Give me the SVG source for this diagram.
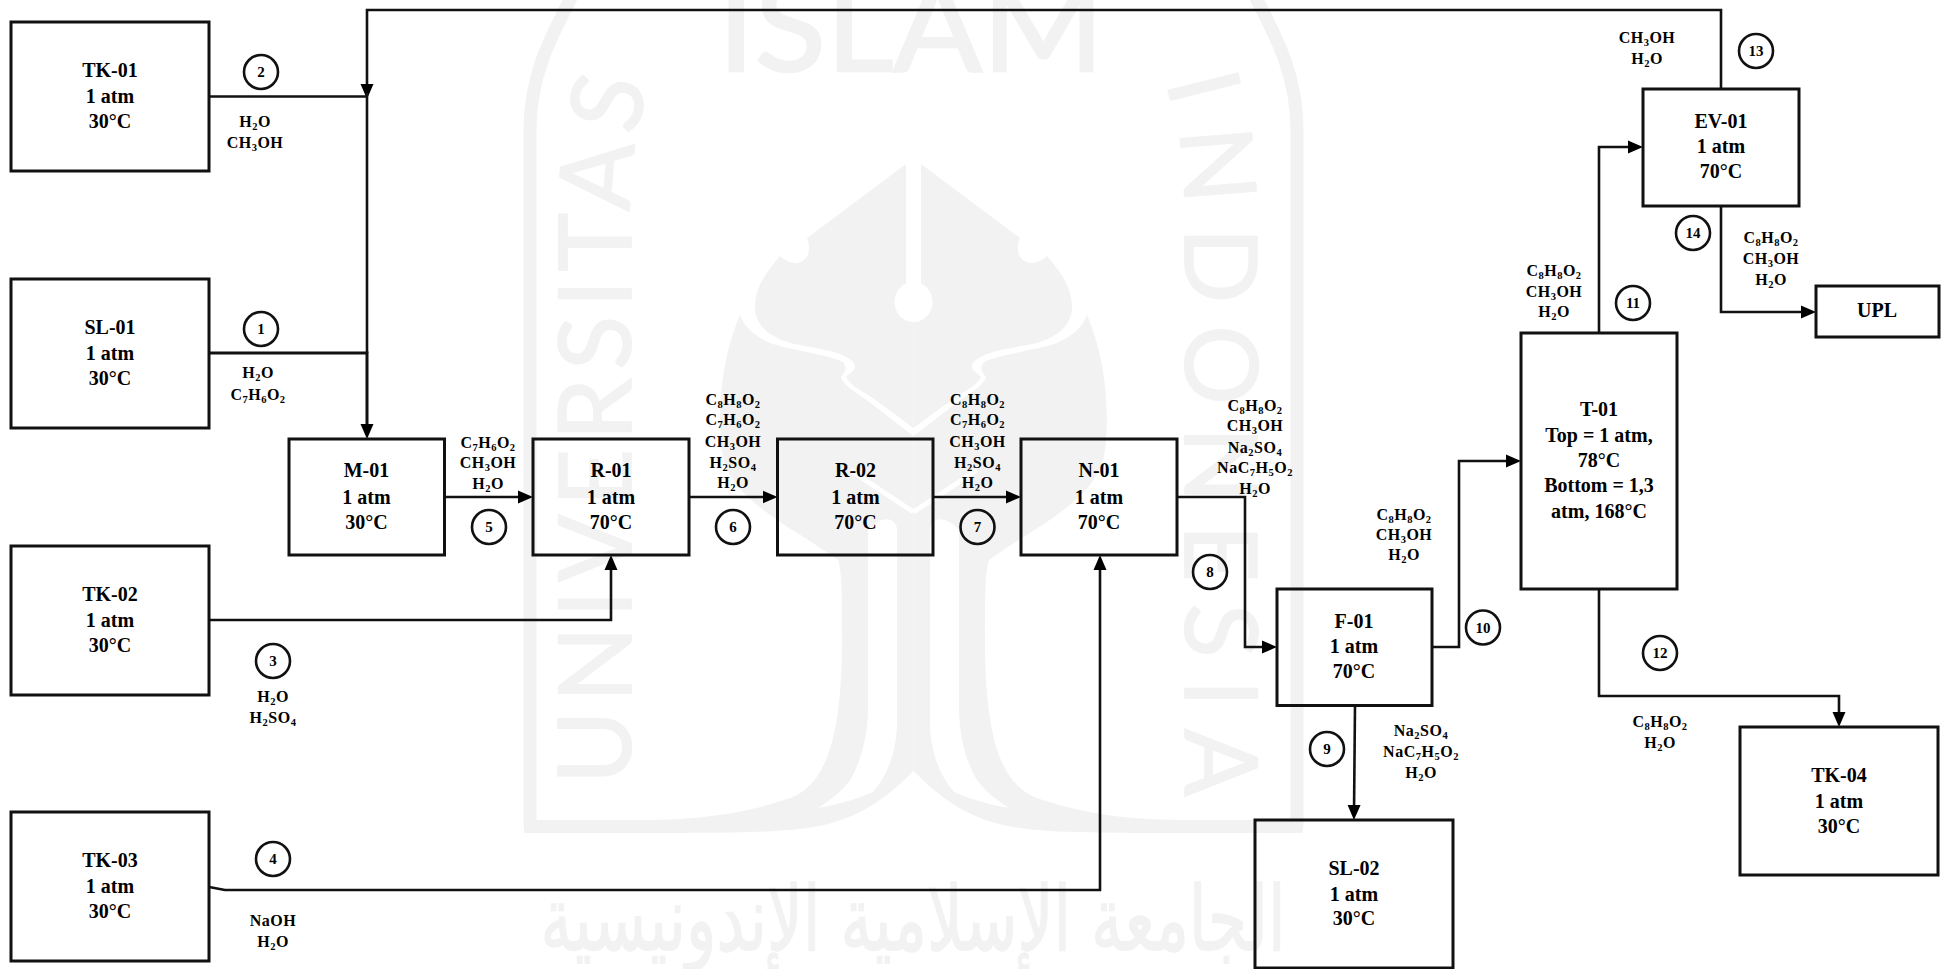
<svg xmlns="http://www.w3.org/2000/svg" xmlns:xlink="http://www.w3.org/1999/xlink" width="1946" height="969" viewBox="0 0 1946 969">
<style>
text{font-family:"Liberation Serif","Times New Roman",serif;font-weight:bold;fill:#000}
.n{font-size:20px;text-anchor:middle}
.f{font-size:16px;text-anchor:middle;letter-spacing:.5px}
.f tspan{font-size:10.5px;baseline-shift:-3px}
.d{font-size:15px;text-anchor:middle}
.box{fill:none;stroke:#111;stroke-width:3}
.c{fill:none;stroke:#111;stroke-width:2.6}
.w{fill:none;stroke:#111;stroke-width:2.6;stroke-linejoin:miter}
.a{marker-end:url(#arr)}
.wm{fill:#f2f2f2;stroke:#f2f2f2;stroke-width:1.5;font-family:"Lato","Liberation Sans",sans-serif;font-weight:normal}
</style>
<defs>
<marker id="arr" markerUnits="userSpaceOnUse" markerWidth="16" markerHeight="14" refX="9" refY="7" orient="auto"><polygon points="0,0.5 15,7 0,13.5" fill="#000"/></marker>
<g id="wmhalf" fill="#f2f2f2">
<path d="M906 164L807 238C812 250 808 262 796 263C788 263 782 258 780 256C768 270 756 285 755 305C754 325 770 340 800 345C825 350 845 352 854 363C858 370 850 372 846 377C850 385 860 390 870 396L913.5 428V164Z"/>
<path d="M740 315C725 350 716 400 722 450C728 500 790 525 838 560C842 570 842 600 842 640C842 740 825 785 790 798C760 808 720 820 640 820L524 820V833H640C720 833 770 833 807 828C850 822 880 805 913.5 771V436L868 401C855 392 843 385 841 377C845 372 848 368 843 362C830 355 790 350 770 343C755 336 745 328 740 315Z"/>
<path d="M868 530V705C868 740 860 760 853 775C845 790 830 800 818 808C840 804 860 798 873 792C888 775 897 750 897 722V530C897 520 885 512 868 530Z" fill="#fff"/>
<path d="M913.5 512L850 470" fill="none" stroke="#fff" stroke-width="5"/>
<path d="M530 826V130C530 70 555 30 575 -10" fill="none" stroke="#f2f2f2" stroke-width="13"/>
</g>
</defs>
<rect width="1946" height="969" fill="#fff"/>
<g id="watermark">
<use href="#wmhalf"/>
<use href="#wmhalf" transform="translate(1827 0) scale(-1 1)"/>
<rect x="906" y="160" width="15" height="130" fill="#fff"/>
<ellipse cx="913.5" cy="302" rx="19" ry="20" fill="#fff"/>
<text class="wm" x="718" y="71" font-size="125" textLength="386" lengthAdjust="spacingAndGlyphs" style="stroke-width:2.5">ISLAM</text>
<path id="wmL" d="M631 784V200C631 170 636 130 650 75" fill="none"/>
<path id="wmR" d="M1165 82C1178 120 1185 170 1185 220V870" fill="none"/>
<text class="wm" font-size="100" letter-spacing="8"><textPath href="#wmL">UNIVERSITAS</textPath></text>
<text class="wm" font-size="100" letter-spacing="21.500"><textPath href="#wmR">INDONESIA</textPath></text>
<text class="wm" x="913" y="950" font-size="90" text-anchor="middle" textLength="745" lengthAdjust="spacingAndGlyphs" style="font-family:'DejaVu Sans',sans-serif">الجامعة الإسلامية الإندونيسية</text>
</g>
<g id="connectors">
<path class="w a" d="M1721 89V10H367V93"/>
<path class="w" d="M367 93V353"/>
<path class="w" d="M209 96.500H367"/>
<path class="w a" d="M209 353H367V433" style="stroke-width:3"/>
<path class="w a" d="M209 620H611V561"/>
<path class="w a" d="M209 887L225 890H1100V561"/>
<path class="w a" d="M444.500 497H527"/>
<path class="w a" d="M689 497H771.500"/>
<path class="w a" d="M933 497H1015"/>
<path class="w a" d="M1177 497H1245V647H1271"/>
<path class="w a" d="M1355 705.500L1354 814"/>
<path class="w a" d="M1432 647H1459V461H1515"/>
<path class="w a" d="M1599 333V147H1637"/>
<path class="w a" d="M1599 589V696H1839V721"/>
<path class="w a" d="M1721 206V312H1810"/>
</g>
<g id="TK-01"><rect class="box" x="11" y="22" width="198" height="149"/><text class="n" x="110" y="77">TK-01</text><text class="n" x="110" y="103">1 atm</text><text class="n" x="110" y="128">30°C</text></g>
<g id="SL-01"><rect class="box" x="11" y="279" width="198" height="149"/><text class="n" x="110" y="334">SL-01</text><text class="n" x="110" y="360">1 atm</text><text class="n" x="110" y="385">30°C</text></g>
<g id="TK-02"><rect class="box" x="11" y="546" width="198" height="149"/><text class="n" x="110" y="601">TK-02</text><text class="n" x="110" y="627">1 atm</text><text class="n" x="110" y="652">30°C</text></g>
<g id="TK-03"><rect class="box" x="11" y="812" width="198" height="149"/><text class="n" x="110" y="867">TK-03</text><text class="n" x="110" y="893">1 atm</text><text class="n" x="110" y="918">30°C</text></g>
<g id="M-01"><rect class="box" x="289" y="439" width="155.500" height="116"/><text class="n" x="366.500" y="477">M-01</text><text class="n" x="366.500" y="504">1 atm</text><text class="n" x="366.500" y="529">30°C</text></g>
<g id="R-01"><rect class="box" x="533" y="439" width="156" height="116"/><text class="n" x="611" y="477">R-01</text><text class="n" x="611" y="504">1 atm</text><text class="n" x="611" y="529">70°C</text></g>
<g id="R-02"><rect class="box" x="777.500" y="439" width="155.500" height="116"/><text class="n" x="855.500" y="477">R-02</text><text class="n" x="855.500" y="504">1 atm</text><text class="n" x="855.500" y="529">70°C</text></g>
<g id="N-01"><rect class="box" x="1021" y="439" width="156" height="116"/><text class="n" x="1099" y="477">N-01</text><text class="n" x="1099" y="504">1 atm</text><text class="n" x="1099" y="529">70°C</text></g>
<g id="F-01"><rect class="box" x="1277" y="589" width="155" height="116.500"/><text class="n" x="1354" y="628">F-01</text><text class="n" x="1354" y="653">1 atm</text><text class="n" x="1354" y="678">70°C</text></g>
<g id="SL-02"><rect class="box" x="1255" y="820" width="198" height="148"/><text class="n" x="1354" y="875">SL-02</text><text class="n" x="1354" y="901">1 atm</text><text class="n" x="1354" y="925">30°C</text></g>
<g id="T-01"><rect class="box" x="1521" y="333" width="156" height="256"/><text class="n" x="1599" y="416">T-01</text><text class="n" x="1599" y="442">Top = 1 atm,</text><text class="n" x="1599" y="467">78°C</text><text class="n" x="1599" y="492">Bottom = 1,3</text><text class="n" x="1599" y="518">atm, 168°C</text></g>
<g id="EV-01"><rect class="box" x="1643" y="89" width="156" height="117"/><text class="n" x="1721" y="128">EV-01</text><text class="n" x="1721" y="153">1 atm</text><text class="n" x="1721" y="178">70°C</text></g>
<g id="UPL"><rect class="box" x="1816" y="286" width="123" height="51"/><text class="n" x="1877" y="317">UPL</text></g>
<g id="TK-04"><rect class="box" x="1740" y="727" width="198" height="148"/><text class="n" x="1839" y="782">TK-04</text><text class="n" x="1839" y="808">1 atm</text><text class="n" x="1839" y="833">30°C</text></g>
<g id="stream-numbers">
<circle class="c" cx="261" cy="72" r="17"/><text class="d" x="261" y="77">2</text>
<circle class="c" cx="261" cy="329" r="17"/><text class="d" x="261" y="334">1</text>
<circle class="c" cx="273" cy="661" r="17"/><text class="d" x="273" y="666">3</text>
<circle class="c" cx="273" cy="859" r="17"/><text class="d" x="273" y="864">4</text>
<circle class="c" cx="489" cy="527" r="17"/><text class="d" x="489" y="532">5</text>
<circle class="c" cx="733" cy="527" r="17"/><text class="d" x="733" y="532">6</text>
<circle class="c" cx="977.500" cy="527" r="17"/><text class="d" x="977.500" y="532">7</text>
<circle class="c" cx="1210" cy="572" r="17"/><text class="d" x="1210" y="577">8</text>
<circle class="c" cx="1327" cy="749" r="17"/><text class="d" x="1327" y="754">9</text>
<circle class="c" cx="1483" cy="627.500" r="17"/><text class="d" x="1483" y="632.500">10</text>
<circle class="c" cx="1633" cy="303" r="17"/><text class="d" x="1633" y="308">11</text>
<circle class="c" cx="1660" cy="653" r="17"/><text class="d" x="1660" y="658">12</text>
<circle class="c" cx="1756" cy="51" r="17"/><text class="d" x="1756" y="56">13</text>
<circle class="c" cx="1693" cy="233" r="17"/><text class="d" x="1693" y="238">14</text>
</g>
<g id="stream-labels">
<text class="f" x="255" y="127">H<tspan>2</tspan>O</text>
<text class="f" x="255" y="148">CH<tspan>3</tspan>OH</text>
<text class="f" x="258" y="378">H<tspan>2</tspan>O</text>
<text class="f" x="258" y="400">C<tspan>7</tspan>H<tspan>6</tspan>O<tspan>2</tspan></text>
<text class="f" x="273" y="702">H<tspan>2</tspan>O</text>
<text class="f" x="273" y="723">H<tspan>2</tspan>SO<tspan>4</tspan></text>
<text class="f" x="273" y="926">NaOH</text>
<text class="f" x="273" y="947">H<tspan>2</tspan>O</text>
<text class="f" x="488" y="448">C<tspan>7</tspan>H<tspan>6</tspan>O<tspan>2</tspan></text>
<text class="f" x="488" y="468">CH<tspan>3</tspan>OH</text>
<text class="f" x="488" y="489">H<tspan>2</tspan>O</text>
<text class="f" x="733" y="405">C<tspan>8</tspan>H<tspan>8</tspan>O<tspan>2</tspan></text>
<text class="f" x="733" y="425">C<tspan>7</tspan>H<tspan>6</tspan>O<tspan>2</tspan></text>
<text class="f" x="733" y="447">CH<tspan>3</tspan>OH</text>
<text class="f" x="733" y="468">H<tspan>2</tspan>SO<tspan>4</tspan></text>
<text class="f" x="733" y="488">H<tspan>2</tspan>O</text>
<text class="f" x="977.500" y="405">C<tspan>8</tspan>H<tspan>8</tspan>O<tspan>2</tspan></text>
<text class="f" x="977.500" y="425">C<tspan>7</tspan>H<tspan>6</tspan>O<tspan>2</tspan></text>
<text class="f" x="977.500" y="447">CH<tspan>3</tspan>OH</text>
<text class="f" x="977.500" y="468">H<tspan>2</tspan>SO<tspan>4</tspan></text>
<text class="f" x="977.500" y="488">H<tspan>2</tspan>O</text>
<text class="f" x="1255" y="411">C<tspan>8</tspan>H<tspan>8</tspan>O<tspan>2</tspan></text>
<text class="f" x="1255" y="431">CH<tspan>3</tspan>OH</text>
<text class="f" x="1255" y="453">Na<tspan>2</tspan>SO<tspan>4</tspan></text>
<text class="f" x="1255" y="473">NaC<tspan>7</tspan>H<tspan>5</tspan>O<tspan>2</tspan></text>
<text class="f" x="1255" y="494">H<tspan>2</tspan>O</text>
<text class="f" x="1404" y="520">C<tspan>8</tspan>H<tspan>8</tspan>O<tspan>2</tspan></text>
<text class="f" x="1404" y="540">CH<tspan>3</tspan>OH</text>
<text class="f" x="1404" y="560">H<tspan>2</tspan>O</text>
<text class="f" x="1421" y="736">Na<tspan>2</tspan>SO<tspan>4</tspan></text>
<text class="f" x="1421" y="757">NaC<tspan>7</tspan>H<tspan>5</tspan>O<tspan>2</tspan></text>
<text class="f" x="1421" y="778">H<tspan>2</tspan>O</text>
<text class="f" x="1554" y="276">C<tspan>8</tspan>H<tspan>8</tspan>O<tspan>2</tspan></text>
<text class="f" x="1554" y="297">CH<tspan>3</tspan>OH</text>
<text class="f" x="1554" y="317">H<tspan>2</tspan>O</text>
<text class="f" x="1660" y="727">C<tspan>8</tspan>H<tspan>8</tspan>O<tspan>2</tspan></text>
<text class="f" x="1660" y="748">H<tspan>2</tspan>O</text>
<text class="f" x="1647" y="43">CH<tspan>3</tspan>OH</text>
<text class="f" x="1647" y="64">H<tspan>2</tspan>O</text>
<text class="f" x="1771" y="243">C<tspan>8</tspan>H<tspan>8</tspan>O<tspan>2</tspan></text>
<text class="f" x="1771" y="264">CH<tspan>3</tspan>OH</text>
<text class="f" x="1771" y="285">H<tspan>2</tspan>O</text>
</g>
</svg>
